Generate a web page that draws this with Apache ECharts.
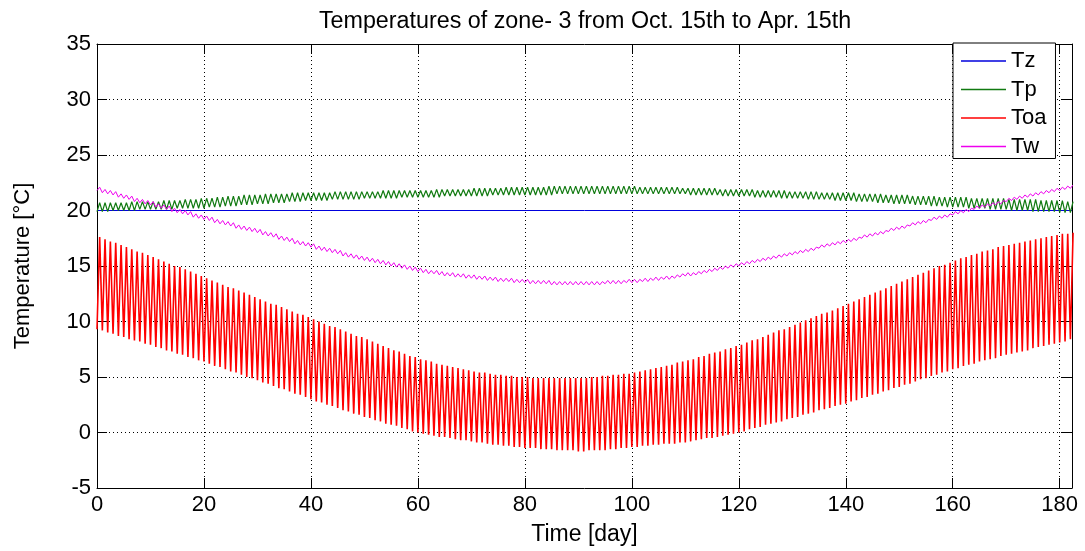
<!DOCTYPE html>
<html>
<head>
<meta charset="utf-8">
<script src="https://cdn.jsdelivr.net/npm/echarts@6/dist/echarts.min.js"></script>
<style>
  html, body { margin: 0; padding: 0; background: #fff; }
  #chart { width: 1085px; height: 551px; }
</style>
</head>
<body>
<div id="chart"></div>
<script>
// ---- Data (one value per day, day 0..182) ----
const titleText = 'Temperatures of zone- 3 from Oct. 15th to Apr. 15th';
const xTickValues = [0, 20, 40, 60, 80, 100, 120, 140, 160, 180];
const yTickValues = [-5, 0, 5, 10, 15, 20, 25, 30, 35];
const seriesNames = ['Tz', 'Tp', 'Toa', 'Tw'];

// Tz: constant zone temperature
const tzDays = [0, 182.3];
const tzValues = [20, 20];

// Tp: daily maxima / minima
const tpHigh = [
  20.7,20.7,20.7,20.7,20.7,20.7,20.8,20.8,20.8,20.8,
  20.8,20.8,20.9,20.9,20.9,20.9,21.0,21.0,21.0,21.1,
  21.1,21.1,21.2,21.2,21.3,21.3,21.3,21.4,21.4,21.4,
  21.4,21.5,21.5,21.5,21.5,21.5,21.6,21.6,21.6,21.6,
  21.6,21.6,21.6,21.6,21.7,21.7,21.7,21.7,21.7,21.7,
  21.7,21.7,21.7,21.8,21.8,21.8,21.8,21.8,21.8,21.8,
  21.8,21.8,21.8,21.9,21.9,21.9,21.9,21.9,21.9,21.9,
  22.0,22.0,22.0,22.0,22.0,22.0,22.1,22.1,22.1,22.1,
  22.1,22.1,22.1,22.1,22.2,22.2,22.2,22.2,22.2,22.2,
  22.2,22.2,22.2,22.2,22.2,22.2,22.2,22.2,22.2,22.2,
  22.2,22.1,22.1,22.1,22.1,22.1,22.1,22.1,22.1,22.0,
  22.0,22.0,22.0,22.0,22.0,22.0,21.9,21.9,21.9,21.9,
  21.9,21.9,21.9,21.8,21.8,21.8,21.8,21.8,21.8,21.7,
  21.7,21.7,21.7,21.7,21.7,21.6,21.6,21.6,21.6,21.6,
  21.6,21.6,21.5,21.5,21.5,21.5,21.5,21.4,21.4,21.4,
  21.4,21.4,21.3,21.3,21.3,21.3,21.3,21.2,21.2,21.2,
  21.2,21.2,21.2,21.1,21.1,21.1,21.1,21.1,21.1,21.1,
  21.0,21.0,21.0,21.0,21.0,21.0,20.9,20.9,20.9,20.9,
  20.9,20.8,20.8
];
const tpLow = [
  19.9,19.9,19.9,20.0,20.0,20.0,20.0,20.0,20.1,20.1,
  20.1,20.1,20.1,20.1,20.1,20.2,20.2,20.2,20.2,20.2,
  20.2,20.3,20.3,20.3,20.4,20.4,20.4,20.5,20.5,20.5,
  20.6,20.6,20.6,20.7,20.7,20.7,20.8,20.8,20.8,20.9,
  20.9,20.9,20.9,20.9,21.0,21.0,21.0,21.0,21.0,21.0,
  21.1,21.1,21.1,21.1,21.1,21.1,21.1,21.2,21.2,21.2,
  21.2,21.2,21.2,21.2,21.2,21.3,21.3,21.3,21.3,21.3,
  21.3,21.3,21.3,21.3,21.4,21.4,21.4,21.4,21.4,21.4,
  21.4,21.4,21.4,21.4,21.4,21.4,21.5,21.5,21.5,21.5,
  21.5,21.5,21.5,21.5,21.5,21.5,21.5,21.5,21.5,21.5,
  21.5,21.5,21.5,21.5,21.5,21.5,21.5,21.5,21.5,21.5,
  21.5,21.4,21.4,21.4,21.4,21.4,21.4,21.3,21.3,21.3,
  21.3,21.3,21.3,21.2,21.2,21.2,21.2,21.2,21.1,21.1,
  21.1,21.1,21.1,21.0,21.0,21.0,21.0,21.0,20.9,20.9,
  20.9,20.9,20.8,20.8,20.8,20.8,20.7,20.7,20.7,20.6,
  20.6,20.6,20.6,20.5,20.5,20.5,20.4,20.4,20.4,20.3,
  20.3,20.3,20.3,20.2,20.2,20.2,20.2,20.1,20.1,20.1,
  20.1,20.0,20.0,20.0,20.0,19.9,19.9,19.9,19.9,19.9,
  19.8,19.8,19.8
];

// Toa: daily maxima / minima of outdoor air
const toaHigh = [
  17.6,17.4,17.2,17.1,16.9,16.7,16.5,16.3,16.2,16.0,
  15.8,15.6,15.4,15.2,15.0,14.9,14.7,14.5,14.3,14.1,
  13.9,13.7,13.5,13.3,13.1,13.0,12.8,12.6,12.4,12.2,
  12.0,11.8,11.6,11.5,11.3,11.1,10.9,10.7,10.6,10.4,
  10.2,10.0,9.8,9.6,9.5,9.3,9.1,8.9,8.7,8.6,
  8.4,8.2,8.0,7.8,7.6,7.4,7.3,7.1,6.9,6.8,
  6.6,6.5,6.4,6.2,6.1,6.0,5.9,5.8,5.7,5.6,
  5.5,5.4,5.4,5.3,5.2,5.2,5.1,5.1,5.0,5.0,
  5.0,4.9,4.9,4.9,4.9,4.9,4.9,4.9,4.9,4.9,
  4.9,4.9,5.0,5.0,5.1,5.1,5.2,5.2,5.3,5.3,
  5.4,5.5,5.6,5.7,5.8,5.9,6.0,6.1,6.3,6.4,
  6.5,6.6,6.8,6.9,7.1,7.2,7.3,7.5,7.6,7.8,
  7.9,8.1,8.3,8.4,8.6,8.8,9.0,9.2,9.3,9.5,
  9.7,9.9,10.1,10.3,10.5,10.7,10.8,11.0,11.2,11.4,
  11.6,11.8,12.0,12.2,12.4,12.6,12.8,13.0,13.2,13.4,
  13.6,13.8,14.0,14.2,14.4,14.6,14.8,15.0,15.1,15.3,
  15.5,15.7,15.8,16.0,16.1,16.3,16.4,16.5,16.7,16.8,
  16.9,17.0,17.1,17.2,17.3,17.4,17.5,17.6,17.7,17.8,
  17.9,17.9,18.0
];
const toaLow = [
  9.3,9.2,9.0,8.9,8.7,8.6,8.4,8.3,8.2,8.0,
  7.9,7.7,7.6,7.4,7.3,7.1,7.0,6.8,6.7,6.5,
  6.4,6.2,6.0,5.9,5.7,5.5,5.4,5.2,5.0,4.9,
  4.7,4.5,4.4,4.2,4.0,3.9,3.7,3.5,3.4,3.2,
  3.0,2.8,2.7,2.5,2.4,2.2,2.0,1.9,1.7,1.6,
  1.4,1.3,1.1,1.0,0.8,0.7,0.6,0.4,0.3,0.1,
  0.0,-0.1,-0.2,-0.3,-0.4,-0.4,-0.5,-0.6,-0.7,-0.7,
  -0.8,-0.9,-0.9,-1.0,-1.1,-1.1,-1.2,-1.2,-1.3,-1.3,
  -1.4,-1.4,-1.4,-1.5,-1.5,-1.5,-1.6,-1.6,-1.6,-1.6,
  -1.7,-1.7,-1.6,-1.6,-1.6,-1.6,-1.5,-1.5,-1.4,-1.4,
  -1.3,-1.3,-1.2,-1.2,-1.1,-1.1,-1.0,-1.0,-1.0,-0.9,
  -0.9,-0.8,-0.7,-0.6,-0.5,-0.5,-0.4,-0.3,-0.2,-0.1,
  0.0,0.1,0.3,0.4,0.5,0.7,0.8,0.9,1.0,1.2,
  1.3,1.4,1.6,1.7,1.8,2.0,2.1,2.2,2.4,2.5,
  2.6,2.8,2.9,3.1,3.2,3.4,3.5,3.7,3.8,4.0,
  4.1,4.3,4.4,4.6,4.8,4.9,5.1,5.2,5.4,5.5,
  5.7,5.8,6.0,6.1,6.2,6.4,6.5,6.6,6.7,6.9,
  7.0,7.1,7.2,7.3,7.4,7.6,7.7,7.8,7.9,8.0,
  8.1,8.2,8.4
];

// Tw: daily maxima / minima of water temperature
const twHigh = [
  22.1,21.9,21.8,21.7,21.5,21.4,21.3,21.1,21.0,20.9,
  20.8,20.6,20.5,20.4,20.2,20.1,20.0,19.9,19.7,19.6,
  19.5,19.4,19.2,19.1,19.0,18.9,18.7,18.6,18.5,18.4,
  18.3,18.1,18.0,17.9,17.7,17.6,17.5,17.3,17.2,17.1,
  17.0,16.8,16.7,16.6,16.5,16.4,16.2,16.1,16.0,15.9,
  15.8,15.7,15.6,15.5,15.4,15.3,15.2,15.1,15.0,14.9,
  14.8,14.7,14.6,14.6,14.5,14.4,14.4,14.3,14.3,14.2,
  14.2,14.1,14.1,14.0,14.0,13.9,13.9,13.9,13.8,13.8,
  13.8,13.7,13.7,13.7,13.7,13.6,13.6,13.6,13.6,13.6,
  13.6,13.6,13.6,13.6,13.6,13.7,13.7,13.7,13.7,13.8,
  13.8,13.8,13.9,13.9,14.0,14.0,14.1,14.1,14.2,14.3,
  14.4,14.4,14.5,14.6,14.7,14.8,14.9,15.0,15.1,15.2,
  15.3,15.4,15.5,15.6,15.7,15.8,15.9,16.0,16.1,16.2,
  16.3,16.4,16.5,16.6,16.7,16.9,17.0,17.1,17.2,17.3,
  17.4,17.5,17.6,17.8,17.9,18.0,18.1,18.2,18.4,18.5,
  18.6,18.7,18.9,19.0,19.1,19.2,19.4,19.5,19.6,19.7,
  19.9,20.0,20.1,20.2,20.4,20.5,20.6,20.7,20.8,20.9,
  21.1,21.2,21.3,21.4,21.5,21.6,21.7,21.8,21.9,22.0,
  22.1,22.2,22.3
];
const twLow = [
  21.8,21.6,21.5,21.4,21.2,21.1,21.0,20.8,20.7,20.6,
  20.5,20.3,20.2,20.1,19.9,19.8,19.7,19.6,19.4,19.3,
  19.2,19.1,18.9,18.8,18.7,18.6,18.4,18.3,18.2,18.1,
  18.0,17.8,17.7,17.6,17.4,17.3,17.2,17.0,16.9,16.8,
  16.7,16.5,16.4,16.3,16.2,16.1,15.9,15.8,15.7,15.6,
  15.5,15.4,15.3,15.2,15.1,15.0,14.9,14.8,14.7,14.6,
  14.5,14.4,14.3,14.3,14.2,14.1,14.1,14.0,14.0,13.9,
  13.9,13.8,13.8,13.7,13.7,13.6,13.6,13.6,13.5,13.5,
  13.5,13.4,13.4,13.4,13.4,13.3,13.3,13.3,13.3,13.3,
  13.3,13.3,13.3,13.3,13.3,13.4,13.4,13.4,13.4,13.5,
  13.5,13.5,13.6,13.6,13.7,13.7,13.8,13.8,13.9,14.0,
  14.1,14.1,14.2,14.3,14.4,14.5,14.6,14.7,14.8,14.9,
  15.0,15.1,15.2,15.3,15.4,15.5,15.6,15.7,15.8,15.9,
  16.0,16.1,16.2,16.3,16.4,16.6,16.7,16.8,16.9,17.0,
  17.1,17.2,17.3,17.5,17.6,17.7,17.8,17.9,18.1,18.2,
  18.3,18.4,18.6,18.7,18.8,18.9,19.1,19.2,19.3,19.4,
  19.6,19.7,19.8,19.9,20.1,20.2,20.3,20.4,20.5,20.6,
  20.8,20.9,21.0,21.1,21.2,21.3,21.4,21.5,21.6,21.7,
  21.8,21.9,22.0
];

// ---- Build series data: minimum at start of each day, maximum at mid-day ----
function dailyZigzag(lowArr, highArr) {
  const out = [];
  for (let d = 0; d < lowArr.length; d++) {
    out.push([d, lowArr[d]]);
    out.push([d + 0.5, highArr[d]]);
  }
  return out;
}

const FONT = "'Liberation Sans', Arial, Helvetica, sans-serif";
const chart = echarts.init(document.getElementById('chart'), null, { renderer: 'canvas' });

const gridLine = { show: true, lineStyle: { color: '#000', width: 1, type: [1, 3] } };
const axisLineStyle = { show: true, onZero: false, lineStyle: { color: '#000', width: 1 } };
const tickIn = { show: true, inside: true, length: 10, lineStyle: { color: '#000', width: 1 } };

const COLORS = { Tz: '#0000dd', Tp: '#117a11', Toa: '#ff0000', Tw: '#ee00ee' };

const option = {
  animation: false,
  backgroundColor: '#fff',
  title: {
    text: titleText,
    left: 580, top: 5, textAlign: 'center',
    textStyle: { fontFamily: FONT, fontSize: 23.3, fontWeight: 'normal', color: '#000' }
  },
  legend: {
    data: seriesNames.map(n => ({ name: n, icon: 'rect', itemStyle: { color: COLORS[n] } })),
    orient: 'vertical',
    left: 953, top: 43,
    itemWidth: 45, itemHeight: 1.3, itemGap: 6.5,
    padding: [7, 9, 1, 8],
    backgroundColor: '#fff',
    borderColor: '#000', borderWidth: 1,
    textStyle: { fontFamily: FONT, fontSize: 22, color: '#000' }
  },
  grid: { left: 97, top: 44, right: 13, bottom: 58, containLabel: false },
  xAxis: [
    {
      type: 'value', min: 0, max: 182.3, interval: 20,
      axisLine: axisLineStyle, axisTick: tickIn, splitLine: gridLine,
      axisLabel: { fontFamily: FONT, fontSize: 22, color: '#000', margin: 6, showMaxLabel: false,
        formatter: v => (xTickValues.indexOf(v) >= 0 ? String(v) : '') },
      name: 'Time [day]', nameLocation: 'middle', nameGap: 35,
      nameTextStyle: { fontFamily: FONT, fontSize: 23, color: '#000' }
    },
    {
      type: 'value', position: 'top', min: 0, max: 182.3, interval: 20,
      axisLine: axisLineStyle, axisTick: tickIn, splitLine: { show: false },
      axisLabel: { show: false }
    }
  ],
  yAxis: [
    {
      type: 'value', min: -5, max: 35, interval: 5,
      axisLine: axisLineStyle, axisTick: tickIn, splitLine: gridLine,
      axisLabel: { fontFamily: FONT, fontSize: 22, color: '#000', margin: 6,
        formatter: v => (yTickValues.indexOf(v) >= 0 ? String(v) : '') },
      name: 'Temperature [°C]', nameLocation: 'middle', nameGap: 63,
      nameTextStyle: { fontFamily: FONT, fontSize: 22, color: '#000' }
    },
    {
      type: 'value', position: 'right', min: -5, max: 35, interval: 5,
      axisLine: axisLineStyle, axisTick: tickIn, splitLine: { show: false },
      axisLabel: { show: false }
    }
  ],
  series: [
    {
      name: 'Tz', type: 'line', xAxisIndex: 0, yAxisIndex: 0, symbol: 'none',
      color: COLORS.Tz, lineStyle: { width: 1, color: COLORS.Tz },
      data: tzDays.map((d, i) => [d, tzValues[i]])
    },
    {
      name: 'Tp', type: 'line', xAxisIndex: 0, yAxisIndex: 0, symbol: 'none',
      color: COLORS.Tp, lineStyle: { width: 1.2, color: COLORS.Tp },
      data: dailyZigzag(tpLow, tpHigh)
    },
    {
      name: 'Toa', type: 'line', xAxisIndex: 0, yAxisIndex: 0, symbol: 'none',
      color: COLORS.Toa, lineStyle: { width: 1.6, color: COLORS.Toa },
      data: dailyZigzag(toaLow, toaHigh)
    },
    {
      name: 'Tw', type: 'line', xAxisIndex: 0, yAxisIndex: 0, symbol: 'none',
      color: COLORS.Tw, lineStyle: { width: 1, color: COLORS.Tw },
      data: dailyZigzag(twLow, twHigh)
    }
  ]
};
chart.setOption(option);
</script>
</body>
</html>
